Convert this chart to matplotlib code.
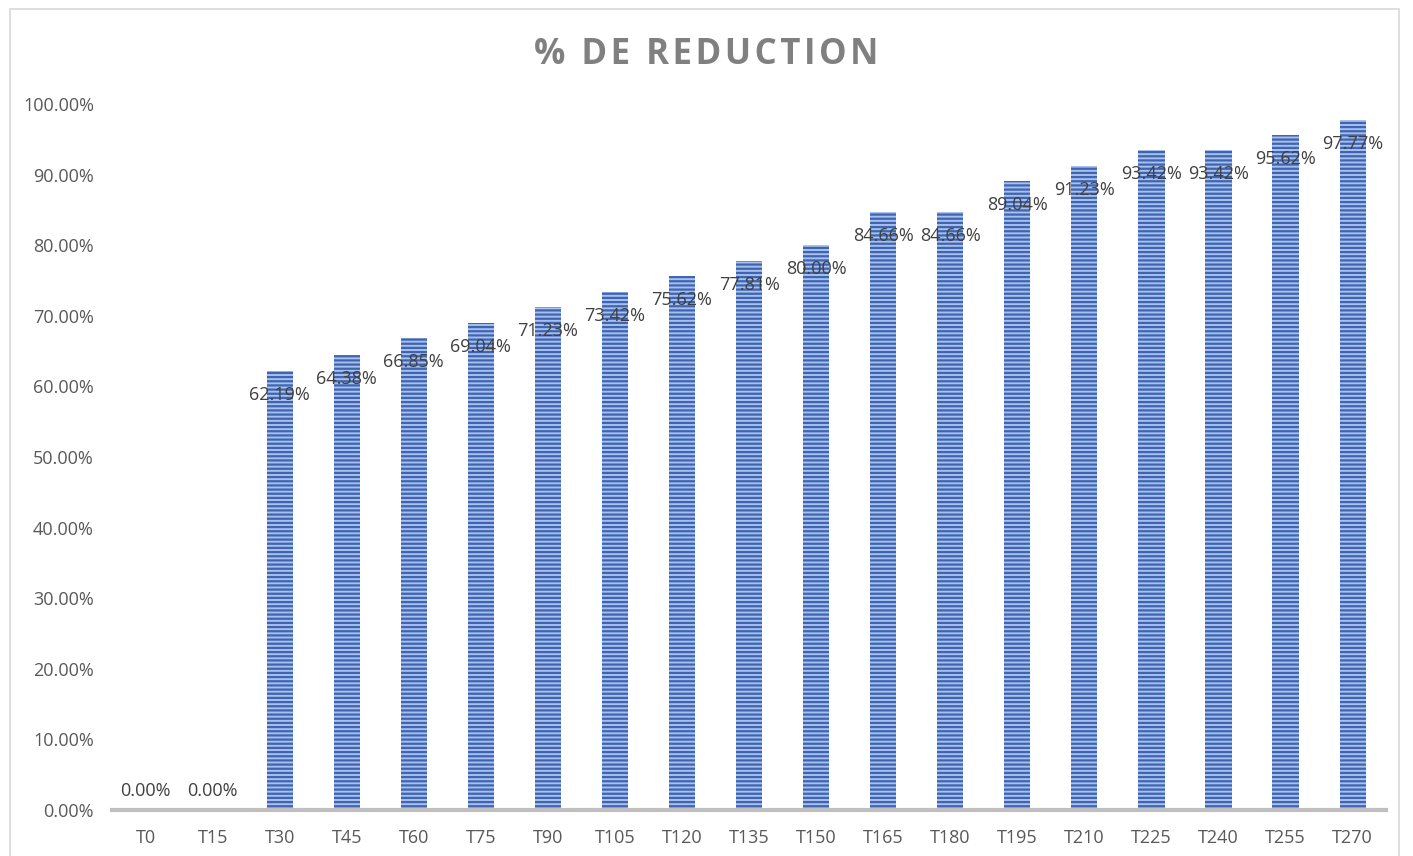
import matplotlib.pyplot as plt
from matplotlib.patches import Rectangle
from matplotlib.ticker import PercentFormatter

# data
categories = ['T0', 'T15', 'T30', 'T45', 'T60', 'T75', 'T90', 'T105', 'T120', 'T135',
              'T150', 'T165', 'T180', 'T195', 'T210', 'T225', 'T240', 'T255', 'T270']
reduction = [0.0, 0.0, 62.19, 64.38, 66.85, 69.04, 71.23, 73.42, 75.62, 77.81,
             80.00, 84.66, 84.66, 89.04, 91.23, 93.42, 93.42, 95.62, 97.77]
title = '% DE REDUCTION'

plt.rcParams['font.family'] = ['Open Sans', 'DejaVu Sans']
plt.rcParams['hatch.linewidth'] = 1.6

fig = plt.figure(figsize=(14.13, 8.56), dpi=100)
ax = fig.add_axes([0.0793, 0.0537, 0.9017, 0.8248])

# outer chart border
fig.patches.append(Rectangle((0.007, -0.01), 0.983, 1.0, transform=fig.transFigure,
                             fill=False, edgecolor='#d9d9d9', linewidth=1.2))

x = range(len(categories))
ax.bar(x, [v / 100 for v in reduction], width=0.39, color='#a8c0ea',
       edgecolor='#3d65b4', hatch='----', linewidth=0)

for i, v in enumerate(reduction):
    off = 19 if v == 0 else -24
    ax.annotate(f'{v:.2f}%', (i, v / 100), xytext=(0, off), textcoords='offset pixels',
                ha='center', va='center', fontsize=13, color='#404040')

ax.set_xlim(-0.5, len(categories) - 0.5)
ax.set_ylim(0, 1.0)
ax.set_yticks([i / 10 for i in range(11)])
ax.yaxis.set_major_formatter(PercentFormatter(1.0, decimals=2))
ax.set_xticks(list(x))
ax.set_xticklabels(categories)
ax.tick_params(axis='both', length=0, labelsize=13, labelcolor='#595959')
ax.tick_params(axis='x', pad=14)
ax.tick_params(axis='y', pad=13)

for s in ['top', 'right', 'left']:
    ax.spines[s].set_visible(False)
ax.spines['bottom'].set_color('#bfbfbf')
ax.spines['bottom'].set_linewidth(3)

# letter spaced title
fig.text(0.5, 0.936, '\u200a'.join(title), ha='center', va='center', fontsize=25,
         fontweight='bold', color='#808080')

fig.savefig('out.png', dpi=100)
